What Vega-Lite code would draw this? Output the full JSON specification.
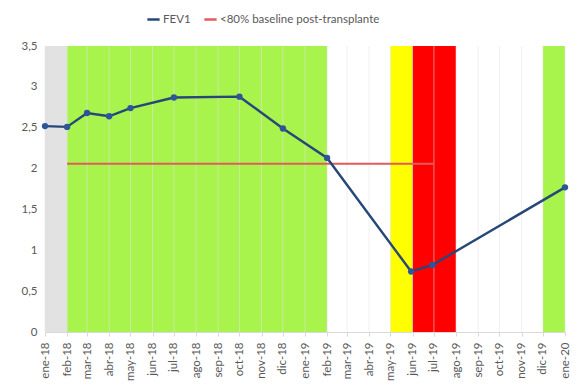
{
  "$schema": "https://vega.github.io/schema/vega-lite/v6.json",
  "width": 520,
  "height": 286,
  "autosize": "none",
  "padding": {"left": 45, "top": 46, "right": 23, "bottom": 57},
  "background": "white",
  "config": {
    "view": {"stroke": null},
    "font": "Lato",
    "axis": {"labelFont": "Lato", "labelColor": "#595959", "labelFontSize": 11.5},
    "legend": {"labelFont": "Lato", "labelColor": "#595959", "labelFontSize": 11.5}
  },
  "datasets": {
    "bands": [
      {"fecha": "2018-01-01", "fin": "2018-02-01", "zona": "basal"},
      {"fecha": "2018-02-01", "fin": "2019-02-01", "zona": "verde"},
      {"fecha": "2019-05-01", "fin": "2019-06-01", "zona": "amarillo"},
      {"fecha": "2019-06-01", "fin": "2019-08-01", "zona": "rojo"},
      {"fecha": "2019-12-01", "fin": "2020-01-01", "zona": "verde"}
    ],
    "months": [
      {"fecha": "2018-01-01"}, {"fecha": "2018-02-01"}, {"fecha": "2018-03-01"}, {"fecha": "2018-04-01"},
      {"fecha": "2018-05-01"}, {"fecha": "2018-06-01"}, {"fecha": "2018-07-01"}, {"fecha": "2018-08-01"},
      {"fecha": "2018-09-01"}, {"fecha": "2018-10-01"}, {"fecha": "2018-11-01"}, {"fecha": "2018-12-01"},
      {"fecha": "2019-01-01"}, {"fecha": "2019-02-01"}, {"fecha": "2019-03-01"}, {"fecha": "2019-04-01"},
      {"fecha": "2019-05-01"}, {"fecha": "2019-06-01"}, {"fecha": "2019-07-01"}, {"fecha": "2019-08-01"},
      {"fecha": "2019-09-01"}, {"fecha": "2019-10-01"}, {"fecha": "2019-11-01"}, {"fecha": "2019-12-01"},
      {"fecha": "2020-01-01"}
    ],
    "fev1": [
      {"fecha": "2018-01-01", "valor": 2.52, "serie": "FEV1"},
      {"fecha": "2018-02-01", "valor": 2.51, "serie": "FEV1"},
      {"fecha": "2018-03-01", "valor": 2.68, "serie": "FEV1"},
      {"fecha": "2018-04-01", "valor": 2.64, "serie": "FEV1"},
      {"fecha": "2018-05-01", "valor": 2.74, "serie": "FEV1"},
      {"fecha": "2018-07-01", "valor": 2.87, "serie": "FEV1"},
      {"fecha": "2018-10-01", "valor": 2.88, "serie": "FEV1"},
      {"fecha": "2018-12-01", "valor": 2.49, "serie": "FEV1"},
      {"fecha": "2019-02-01", "valor": 2.13, "serie": "FEV1"},
      {"fecha": "2019-05-30", "valor": 0.74, "serie": "FEV1"},
      {"fecha": "2019-06-29", "valor": 0.82, "serie": "FEV1"},
      {"fecha": "2020-01-01", "valor": 1.77, "serie": "FEV1"}
    ],
    "umbral": [
      {"fecha": "2018-02-01", "valor": 2.06, "serie": "<80% baseline post-transplante"},
      {"fecha": "2019-07-01", "valor": 2.06, "serie": "<80% baseline post-transplante"}
    ]
  },
  "encoding": {
    "x": {
      "field": "fecha", "type": "temporal",
      "scale": {"domain": ["2018-01-01", "2020-01-01"]},
      "axis": {
        "title": null,
        "tickCount": {"interval": "month", "step": 1},
        "labelExpr": "['ene','feb','mar','abr','may','jun','jul','ago','sep','oct','nov','dic'][month(datum.value)] + '-' + timeFormat(datum.value, '%y')",
        "labelAngle": -90,
        "labelPadding": 6,
        "grid": false,
        "domain": true,
        "domainColor": "#d9d9d9",
        "ticks": true,
        "tickColor": "#d9d9d9",
        "tickSize": 4,
        "labelOverlap": false,
        "labelBound": false,
        "labelFlush": false
      }
    }
  },
  "layer": [
    {
      "data": {"name": "bands"},
      "mark": {"type": "rect"},
      "encoding": {
        "x2": {"field": "fin"},
        "fill": {
          "field": "zona", "type": "nominal",
          "scale": {"domain": ["basal", "verde", "amarillo", "rojo"], "range": ["#e2e2e2", "#a8f34c", "#ffff00", "#ff0000"]},
          "legend": null
        }
      }
    },
    {
      "data": {"name": "months"},
      "mark": {"type": "rule", "color": "#e4e4e4", "opacity": 0.55, "strokeWidth": 1},
      "encoding": {}
    },
    {
      "data": {"name": "umbral"},
      "mark": {"type": "line", "strokeWidth": 2},
      "encoding": {
        "y": {"field": "valor", "type": "quantitative"},
        "stroke": {"field": "serie", "type": "nominal"}
      }
    },
    {
      "data": {"name": "fev1"},
      "mark": {"type": "line", "strokeWidth": 2.4},
      "encoding": {
        "y": {"field": "valor", "type": "quantitative",
          "scale": {"domain": [0, 3.5]},
          "axis": {
            "title": null,
            "values": [0, 0.5, 1, 1.5, 2, 2.5, 3, 3.5],
            "labelExpr": "replace(format(datum.value, '~g'), '.', ',')",
            "grid": false,
            "domain": false,
            "ticks": false,
            "labelPadding": 8
          }
        },
        "stroke": {
          "field": "serie", "type": "nominal",
          "scale": {"domain": ["FEV1", "<80% baseline post-transplante"], "range": ["#27477a", "#e35b5b"]},
          "legend": {
            "title": null,
            "orient": "none",
            "direction": "horizontal",
            "legendX": 101,
            "legendY": -34,
            "symbolType": "stroke",
            "symbolStrokeWidth": 2.5,
            "symbolSize": 150,
            "columnPadding": 8,
            "labelOffset": 2,
            "labelLimit": 400
          }
        }
      }
    },
    {
      "data": {"name": "fev1"},
      "mark": {"type": "point", "filled": true, "size": 40, "color": "#2d5597", "opacity": 1},
      "encoding": {
        "y": {"field": "valor", "type": "quantitative"}
      }
    }
  ]
}
